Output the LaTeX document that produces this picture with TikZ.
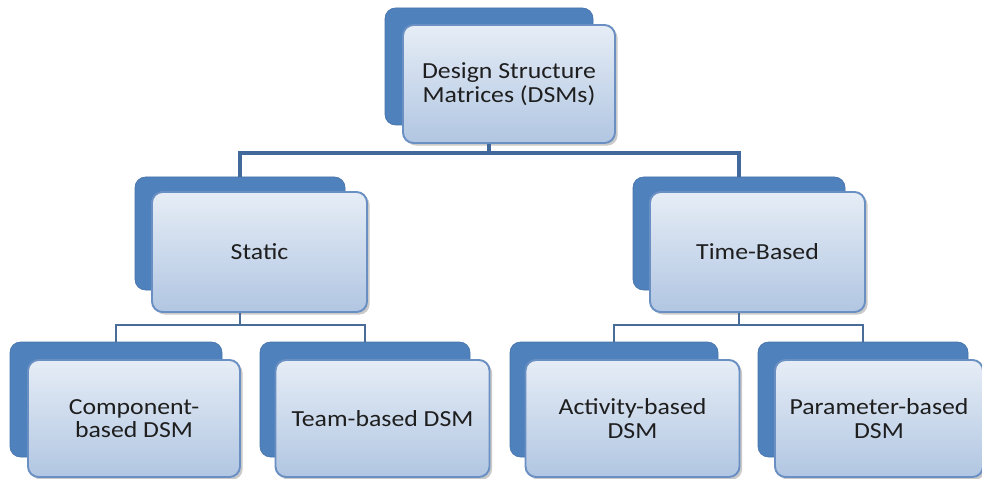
\documentclass[tikz,border=0pt]{standalone}
\usepackage{fontspec}
\setmainfont{Carlito}[FakeStretch=1.12]
\usetikzlibrary{shadows,calc}
\definecolor{backblue}{HTML}{4F81BD}
\definecolor{frontedge}{HTML}{6A8FC2}
\definecolor{fronttop}{HTML}{E6EDF6}
\definecolor{frontbot}{HTML}{B1C6E2}
\definecolor{linkblue}{HTML}{41699C}
\definecolor{textgray}{HTML}{1E1E1E}
\tikzset{
  backbox/.style={draw=backblue!90!black, line width=0.4pt, fill=backblue,
    rounded corners=6pt, minimum width=#1*0.02cm, inner sep=0pt},
  frontbox/.style={draw=frontedge, line width=1.1pt, rounded corners=6pt,
    top color=fronttop, bottom color=frontbot, align=center,
    text=textgray, font=\fontsize{13.1}{13.4}\selectfont,
    drop shadow={shadow xshift=1.5pt, shadow yshift=-1.5pt, opacity=0.35, fill=black!60},
    minimum width=#1*0.02cm, inner sep=0pt},
  mainlink/.style={draw=linkblue, line width=1.8pt},
  sublink/.style={draw=linkblue!85!gray, line width=0.9pt},
}
\begin{document}
\begin{tikzpicture}[x=0.02cm, y=-0.02cm]
\useasboundingbox (0,0) rectangle (982,479);

% top level
\node[backbox=208, minimum height=117*0.02cm] (topB) at (489,66.5) {};
\node[frontbox=212, minimum height=118*0.02cm] (topF) at (509,84) {Design Structure\\Matrices (DSMs)};

% second level
\node[backbox=210, minimum height=113*0.02cm] (statB) at (240,233.5) {};
\node[frontbox=215, minimum height=120*0.02cm] (statF) at (259.5,252) {Static};
\node[backbox=212, minimum height=113*0.02cm] (timeB) at (739,233.5) {};
\node[frontbox=215, minimum height=120*0.02cm] (timeF) at (757.5,252) {Time-Based};

% third level
\node[backbox=212, minimum height=115*0.02cm] (compB) at (116,399.5) {};
\node[frontbox=212, minimum height=117*0.02cm] (compF) at (134,418.5) {Component-\\based DSM};
\node[backbox=210, minimum height=115*0.02cm] (teamB) at (365,399.5) {};
\node[frontbox=214, minimum height=117*0.02cm] (teamF) at (382.5,418.5) {Team-based DSM};
\node[backbox=208, minimum height=115*0.02cm] (actB) at (614,399.5) {};
\node[frontbox=214, minimum height=117*0.02cm] (actF) at (632.5,418.5) {Activity-based\\DSM};
\node[backbox=210, minimum height=115*0.02cm] (parB) at (863,399.5) {};
\node[frontbox=208, minimum height=117*0.02cm] (parF) at (879,418.5) {Parameter-based\\DSM};

% connectors: trunk from each parent, bar across, drops to the children
\coordinate (j1) at (489,153);
\coordinate (j2) at (240,325);
\coordinate (j3) at (739,325);
\draw[mainlink] (topB.center |- topF.south) -- (j1);
\draw[mainlink] (statB.north) |- (j1) -| (timeB.north);
\draw[sublink] (statB.center |- statF.south) -- (j2);
\draw[sublink] (compB.north) |- (j2) -| (teamB.north);
\draw[sublink] (timeB.center |- timeF.south) -- (j3);
\draw[sublink] (actB.north) |- (j3) -| (parB.north);
\end{tikzpicture}
\end{document}
